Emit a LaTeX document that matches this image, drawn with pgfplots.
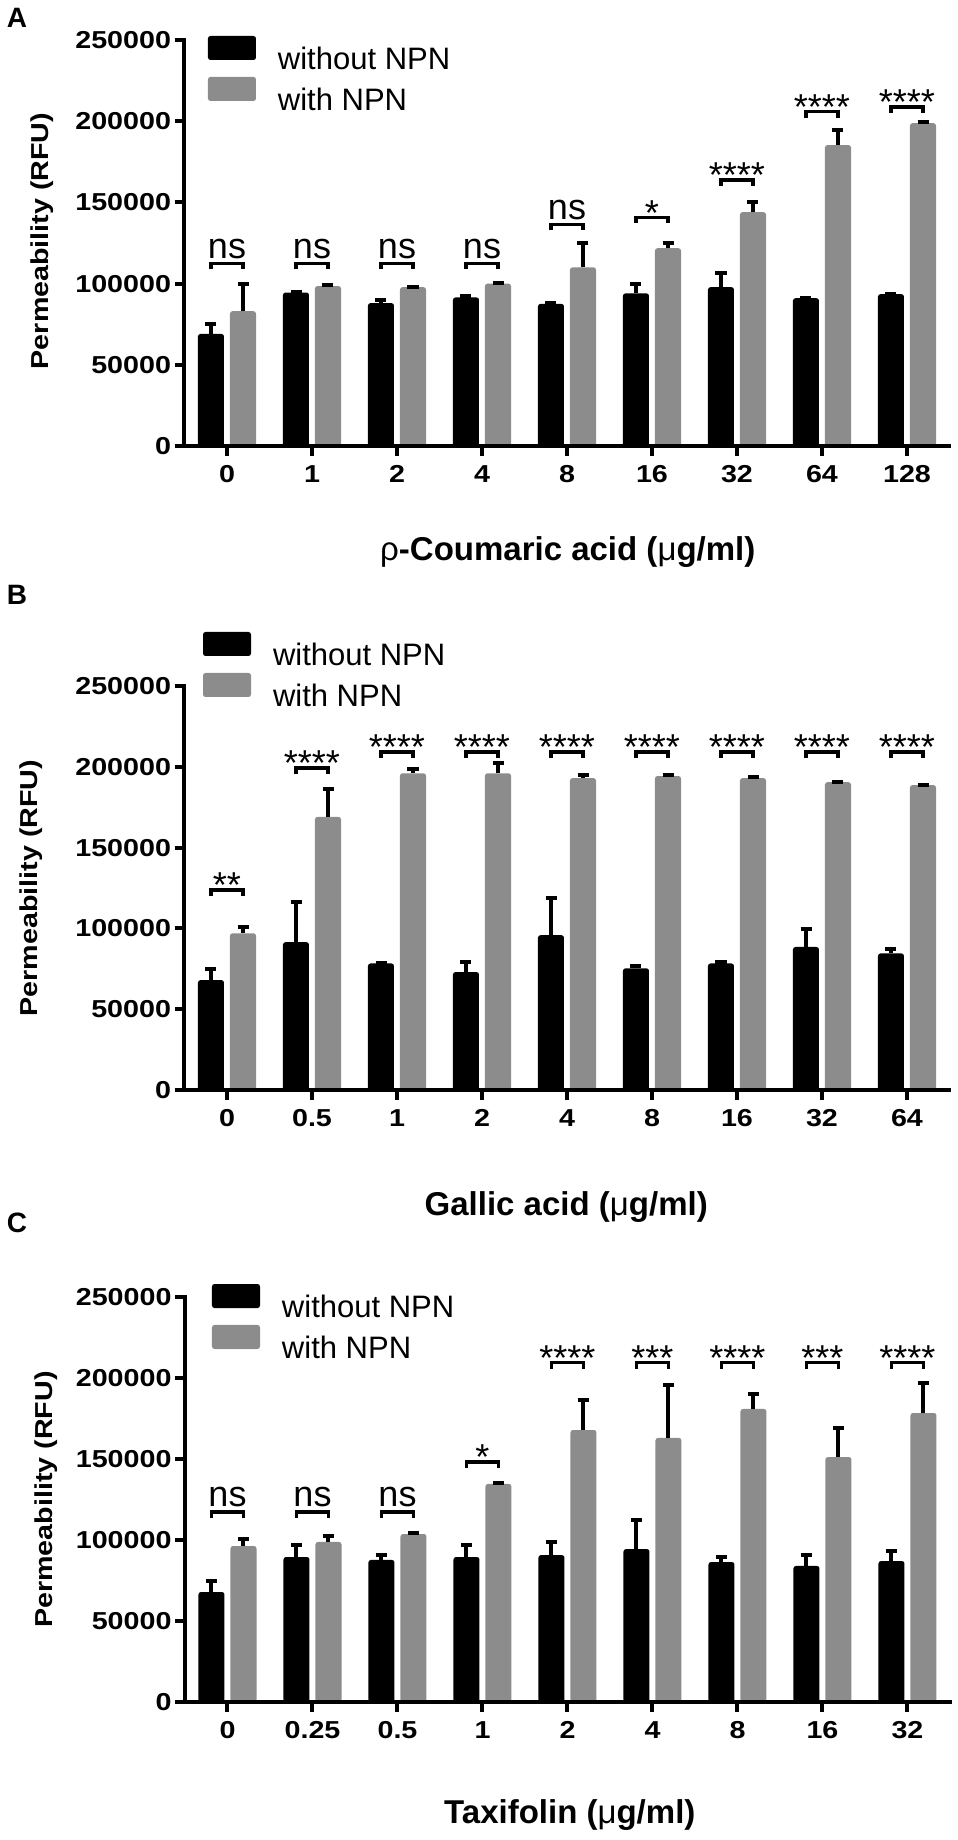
\documentclass[border=0pt]{standalone}
\usepackage{pgfplots}
\pgfplotsset{compat=1.18}
\usepackage{fontspec}
\setmainfont{Liberation Sans}
\newfontfamily\tickf{Liberation Sans}[FakeStretch=1.17]
\newcommand\tickfont{\tickf\bfseries\fontsize{24.5}{29}\selectfont}
\newcommand\legfont{\fontsize{31}{37}\selectfont}
\newcommand\sigfont{\fontsize{36}{42}\selectfont}
\newcommand\xlabfont{\bfseries\fontsize{33}{40}\selectfont}
\newcommand\panfont{\bfseries\fontsize{28}{34}\selectfont}
\definecolor{bargray}{RGB}{140,140,140}

\newcommand{\brk}[2]{%
  \draw[line width=3.5pt,black] ([xshift=-16pt,yshift=-6pt]axis cs:#1,#2) -- ([xshift=-16pt]axis cs:#1,#2) -- ([xshift=16pt]axis cs:#1,#2) -- ([xshift=16pt,yshift=-6pt]axis cs:#1,#2);}
\newcommand{\ns}[2]{\brk{#1}{#2}%
  \node[anchor=base,font=\sigfont,inner sep=0pt] at ([yshift=5pt]axis cs:#1,#2) {ns};}
\newcommand{\st}[3]{\brk{#1}{#2}%
  \node[anchor=base,font=\sigfont,inner sep=0pt] at ([yshift=-8pt]axis cs:#1,#2) {#3};}
\newcommand{\axlines}{\draw[line width=4pt, black, line cap=rect] (rel axis cs:0,1) -- (rel axis cs:0,0) -- (rel axis cs:1,0);}

\pgfplotsset{
  panel/.style={
    scale only axis, width=765pt,
    xmin=-0.5, xmax=8.5, ymin=0, ymax=250000,
    xtick={0,1,2,3,4,5,6,7,8},
    ytick={0,50000,100000,150000,200000,250000},
    yticklabels={0,50000,100000,150000,200000,250000},
    scaled y ticks=false,
    xtick pos=left, ytick pos=left,
    axis line style={draw=none},
    tick align=outside,
    major tick length=10pt,
    tick style={line width=4pt, black},
    ticklabel style={font=\tickfont},
    xticklabel style={yshift=-6pt},
    ylabel={Permeability (RFU)},
    every axis y label/.style={rotate=90, anchor=center, font=\tickfont, inner sep=0pt},
    every axis x label/.style={anchor=center, font=\xlabfont, inner sep=0pt},
    ybar, bar width=26pt,
    clip=false,
    error bars/y dir=plus, error bars/y explicit,
    error bars/error bar style={line width=4pt, black},
    error bars/error mark options={rotate=90, line width=4pt, black, mark size=5.5pt},
    legend cell align=left,
    legend image code/.code={\path[##1] (0pt,-1pt) rectangle (48pt,23pt); \path (70pt,0pt);},
    legend style={draw=none, fill=none, anchor=north west, inner sep=0pt, outer sep=0pt,
      row sep=6pt, column sep=0pt, nodes={inner sep=0pt}, font=\legfont},
  },
  blk/.style={fill=black, draw=none, rounded corners=2.5pt, bar shift=-16pt},
  gry/.style={fill=bargray, draw=none, rounded corners=2.5pt, bar shift=16pt},
}

\begin{document}
\begin{tikzpicture}
\useasboundingbox (0pt,0pt) rectangle (958pt,-1840pt);

% ---------------- Panel A ----------------
\begin{axis}[panel, at={(184.5pt,-446pt)}, anchor=south west, height=406pt,
  xticklabels={0,1,2,4,8,16,32,64,128},
  xlabel={{\mdseries ρ}-Coumaric acid ({\mdseries μ}g/ml)},
  xlabel style={at={(axis description cs:0.501,-0.261)}},
  ylabel style={at={(axis description cs:-0.186,0.505)}},
  legend style={at={(axis description cs:0.0307,1.0099)}}]
\addplot[blk] table[x=x,y=y,y error=e] {
x y e
0 69000 6000
1 94500 300
2 88000 1800
3 91500 800
4 87500 300
5 94000 5800
6 97800 8700
7 91000 200
8 93500 300
};
\addplot[gry] table[x=x,y=y,y error=e] {
x y e
0 83000 17000
1 98500 500
2 97800 400
3 100000 400
4 110000 15000
5 121800 3300
6 144000 6400
7 185300 9500
8 198800 1000
};
\legend{without NPN, with NPN}
\axlines
\ns{0}{112500}
\ns{1}{112500}
\ns{2}{112500}
\ns{3}{112500}
\ns{4}{136500}
\st{5}{140800}{*}
\st{6}{163800}{****}
\st{7}{205900}{****}
\st{8}{208900}{****}
\end{axis}

% ---------------- Panel B ----------------
\begin{axis}[panel, at={(184.5pt,-1090pt)}, anchor=south west, height=404pt,
  xticklabels={0,0.5,1,2,4,8,16,32,64},
  xlabel={Gallic acid ({\mdseries μ}g/ml)},
  xlabel style={at={(axis description cs:0.499,-0.2896)}},
  ylabel style={at={(axis description cs:-0.2007,0.5)}},
  legend style={at={(axis description cs:0.0242,1.1337)}}]
\addplot[blk] table[x=x,y=y,y error=e] {
x y e
0 68000 7000
1 91500 25000
2 78300 500
3 73000 6500
4 95800 23000
5 75300 1200
6 78300 1200
7 88500 11000
8 84500 2800
};
\addplot[gry] table[x=x,y=y,y error=e] {
x y e
0 97000 4000
1 169000 17000
2 196000 2500
3 196000 6500
4 193000 2000
5 194300 600
6 193000 400
7 190500 300
8 188700 300
};
\legend{without NPN, with NPN}
\axlines
\st{0}{123800}{**}
\st{1}{199300}{****}
\st{2}{209200}{****}
\st{3}{209200}{****}
\st{4}{209200}{****}
\st{5}{209200}{****}
\st{6}{209200}{****}
\st{7}{209200}{****}
\st{8}{209200}{****}
\end{axis}

% ---------------- Panel C ----------------
\begin{axis}[panel, at={(185pt,-1702pt)}, anchor=south west, height=405pt,
  xticklabels={0,0.25,0.5,1,2,4,8,16,32},
  xlabel={Taxifolin ({\mdseries μ}g/ml)},
  xlabel style={at={(axis description cs:0.503,-0.279)}},
  ylabel style={at={(axis description cs:-0.1817,0.5)}},
  legend style={at={(axis description cs:0.0353,1.0321)}}]
\addplot[blk] table[x=x,y=y,y error=e] {
x y e
0 67900 7000
1 89500 7600
2 87700 3300
3 89500 7600
4 90700 8300
5 94400 18200
6 86400 3300
7 84000 7000
8 87000 6400
};
\addplot[gry] table[x=x,y=y,y error=e] {
x y e
0 96300 4600
1 98800 3900
2 103700 400
3 134600 400
4 167900 18800
5 163000 32900
6 180900 9500
7 151200 18200
8 178400 18800
};
\legend{without NPN, with NPN}
\axlines
\ns{0}{117300}
\ns{1}{117300}
\ns{2}{117300}
\st{3}{148200}{*}
\st{4}{209500}{****}
\st{5}{209500}{***}
\st{6}{209500}{****}
\st{7}{209500}{***}
\st{8}{209500}{****}
\end{axis}

\node[font=\panfont, anchor=center, inner sep=0pt] at (17pt,-18pt) {A};
\node[font=\panfont, anchor=center, inner sep=0pt] at (17pt,-595pt) {B};
\node[font=\panfont, anchor=center, inner sep=0pt] at (17pt,-1223pt) {C};
\end{tikzpicture}
\end{document}
